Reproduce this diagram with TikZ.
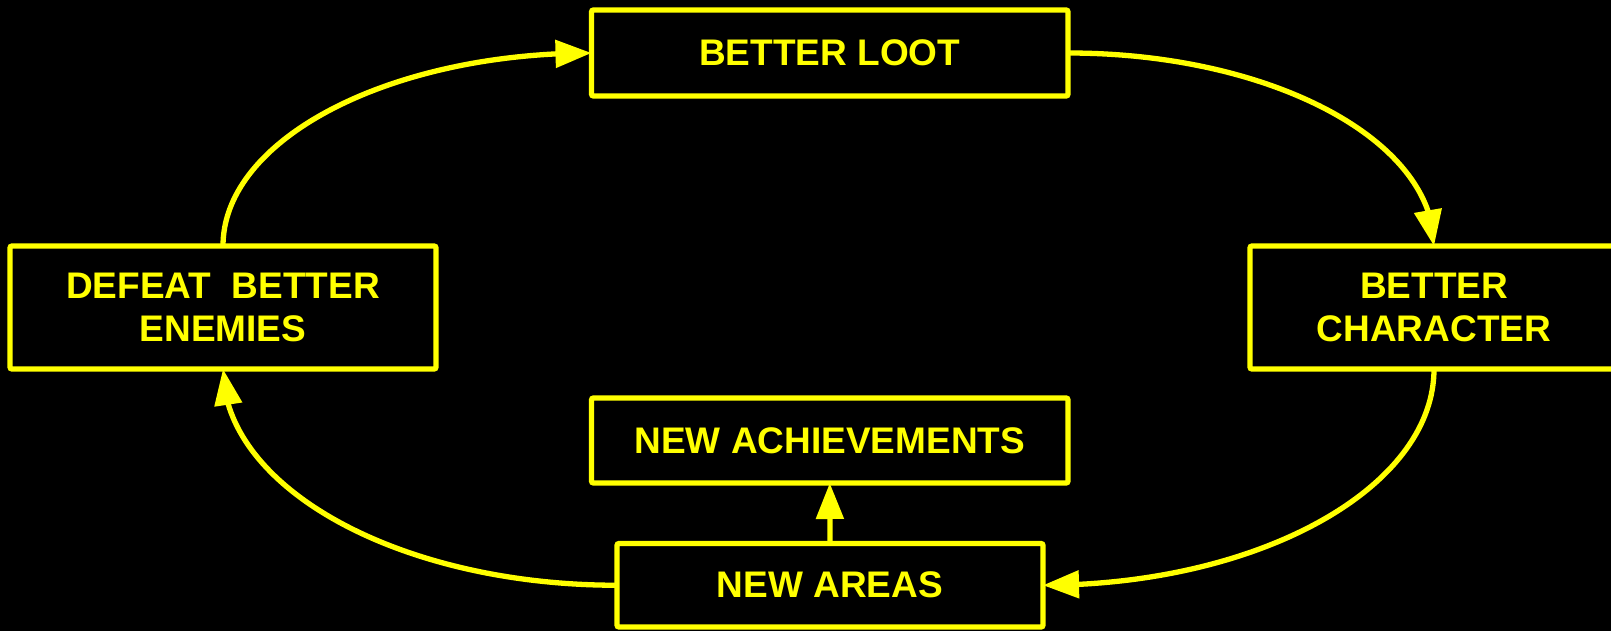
\documentclass[tikz,border=0pt]{standalone}
\usepackage{fontspec}
\setmainfont{Liberation Sans}
\usetikzlibrary{arrows.meta,bending}
\definecolor{loopyellow}{RGB}{255,255,0}
\begin{document}
\begin{tikzpicture}[x=1pt,y=-1pt,
  box/.style={draw=loopyellow, line width=5.3pt, rounded corners=2pt,
    inner sep=0pt, outer sep=0pt, align=center, text=loopyellow,
    font=\fontsize{37}{43.7}\selectfont\bfseries},
  link/.style={draw=loopyellow, line width=5.3pt,
    -{Triangle[length=36pt,width=27pt]}}]
% black canvas
\fill[black] (0,0) rectangle (1611,631);
\useasboundingbox (0,0) rectangle (1611,631);

% stages of the loop
\node[box, minimum width=476.5pt, minimum height=86pt]  (loot)    at (829.75,53)   {BETTER LOOT};
\node[box, minimum width=426pt,   minimum height=123pt] (enemies) at (223,307.5)   {DEFEAT\ \ BETTER\\ENEMIES};
\node[box, minimum width=368pt,   minimum height=123pt] (char)    at (1434,307.5)  {BETTER\\CHARACTER};
\node[box, minimum width=476.5pt, minimum height=85pt]  (achieve) at (829.75,440.5){NEW ACHIEVEMENTS};
\node[box, minimum width=426pt,   minimum height=83.5pt](areas)   at (830,585.25)  {NEW AREAS};

% the cycle
\draw[link] (enemies.north) .. controls +(0,-106.5) and +(-203.4,0) .. (loot.west);
\draw[link] (loot.east) .. controls +(202,0) and +(0,-106.5) .. (char.north);
\draw[link] (char.south) .. controls +(0,119) and +(216,0) .. (areas.east);
\draw[link] (areas.west) .. controls +(-217.5,0) and +(0,119) .. (enemies.south);
% side branch
\draw[link] (areas.north) -- (achieve.south);
\end{tikzpicture}
\end{document}
